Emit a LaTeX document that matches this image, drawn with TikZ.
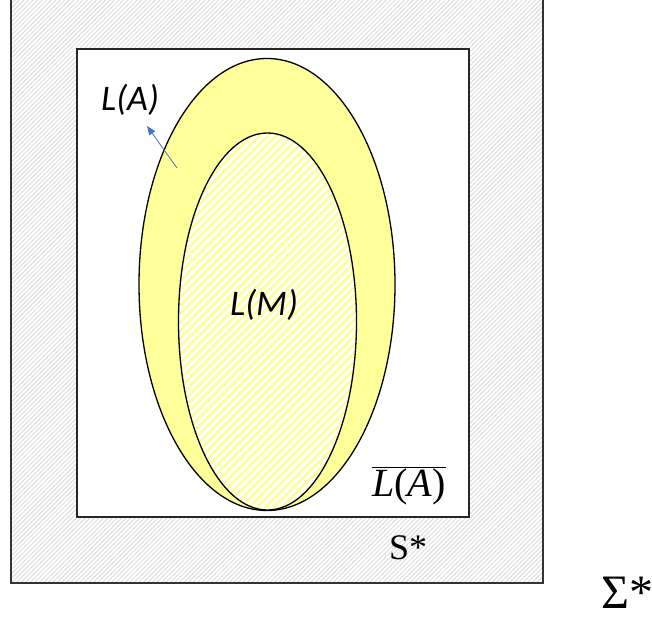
\documentclass[tikz,border=0pt]{standalone}
\usepackage{fontspec}
\setmainfont{Liberation Serif}
\newfontfamily\calibri{Carlito}
\usepackage{tikz}
\usetikzlibrary{arrows.meta,patterns.meta}
\definecolor{officeblue}{RGB}{68,114,196}
\definecolor{paleyellow}{RGB}{255,255,153}

\begin{document}
\begin{tikzpicture}[x=1pt,y=-1pt]
\useasboundingbox (0,0) rectangle (652,617);
\begin{scope}
\clip (0,0) rectangle (652,617);
% S* : grey hatched frame
\fill[white] (11,-5) rectangle (543,583);
\fill[pattern={Lines[angle=45,distance=3.2pt,line width=1pt]}, pattern color=black!13] (11,-5) rectangle (543,583);
\draw[line width=1.3pt, black!80] (11,-5) rectangle (543,583);
\end{scope}
% complement box
\draw[fill=white, draw=black!85, line width=1.3pt] (77,49) rectangle (469,517);
% L(A)
\draw[fill=paleyellow, line width=1.3pt] (267,284.5) ellipse [x radius=128pt, y radius=226pt];
% L(M)
\fill[white] (267.5,321.5) ellipse [x radius=89pt, y radius=188.5pt];
\fill[pattern={Lines[angle=45,distance=5.8pt,line width=2.6pt]}, pattern color=paleyellow] (267.5,321.5) ellipse [x radius=89pt, y radius=188.5pt];
\draw[line width=1.3pt] (267.5,321.5) ellipse [x radius=89pt, y radius=188.5pt];
% labels
\node[font=\calibri\itshape\fontsize{36}{42}\selectfont, anchor=base west, inner sep=0pt] (labelA) at (101,111) {L(A)};
\node[font=\calibri\itshape\fontsize{36}{42}\selectfont, anchor=base west, inner sep=0pt] (labelM) at (230,315) {L(M)};
\node[font=\fontsize{40}{46}\selectfont, anchor=base west, inner sep=0pt] (complA) at (372,496) {$\overline{\mbox{\textit{L}(\textit{A})}}$};
\node[font=\fontsize{36}{42}\selectfont, anchor=base west, inner sep=0pt] (labelS) at (389,559) {S*};
\node[font=\fontsize{48}{54}\selectfont, anchor=base west, inner sep=0pt] (labelSigma) at (601,608) {Σ*};
% pointer to L(A)
\coordinate (arrowtail) at (177,168);
\coordinate (arrowtip) at (147,126);
\draw[officeblue, line width=0.8pt, -{Triangle[length=9pt,width=7pt]}] (arrowtail) -- (arrowtip);
\end{tikzpicture}
\end{document}
